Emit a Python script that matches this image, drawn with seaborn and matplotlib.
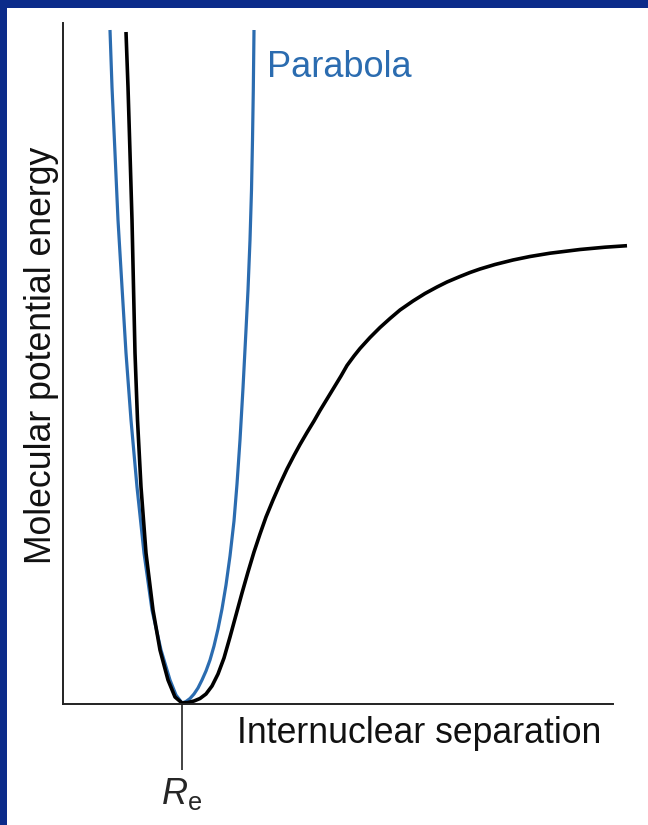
import numpy as np
import pandas as pd
import seaborn as sns
import matplotlib
matplotlib.use("Agg")
import matplotlib.pyplot as plt
from matplotlib.patches import Rectangle

# ---- data (arbitrary units) ----
R_E = 119  # equilibrium separation

morse_sep = [63, 65, 67, 69, 70.5, 72, 74.5, 78, 83, 90, 97, 105, 112,
             119, 125, 131, 137, 143, 149, 155, 161, 167, 173, 179, 185, 191,
             197, 203, 210, 217, 224, 231, 237, 244, 251, 257, 264, 271, 278,
             284, 291, 297, 307, 317, 327, 337, 350, 362, 374, 384, 397, 407,
             417, 432, 450, 467, 487, 517, 542, 564]
morse_energy = [671, 616, 550, 483, 416, 350, 283, 216, 150, 93, 53, 23, 6,
                0, 0.5, 2, 4.5, 9, 17, 29, 45, 66, 88, 110, 131, 151,
                169, 186, 203, 219, 234, 247.5, 258.5, 270.5, 282, 292.5, 304, 315.5, 327,
                337.5, 347, 354.5, 365.5, 375.5, 384.5, 393, 402, 409.5, 416, 421, 426.5, 430.5,
                434, 438.5, 443, 446.5, 449.8, 453.5, 455.8, 457.3]

parab_sep = [47, 49, 52, 55, 59, 63, 68, 74, 81, 89, 98, 107, 113,
             119, 123, 127, 131, 135, 139, 143, 147, 151, 155, 159, 163, 167,
             171, 174, 177, 180, 183, 185, 187, 188.5, 189.5, 190.3, 191]
parab_energy = [673, 616, 550, 483, 416, 350, 283, 216, 150, 93, 53, 23, 8,
                0, 1.5, 4.5, 9, 15, 23, 32, 43, 57, 74, 94, 118, 147,
                182, 219, 263, 315, 373, 413, 463, 513, 563, 613, 673]

x_label = "Internuclear separation"
y_label = "Molecular potential energy"
parab_label = "Parabola"
tick_label = r"$R_{\mathrm{e}}$"

# ---- style ----
sns.set_style("white")
plt.rcParams["font.family"] = ["Liberation Sans", "DejaVu Sans"]
plt.rcParams["mathtext.fontset"] = "custom"
plt.rcParams["mathtext.rm"] = "Liberation Sans"
plt.rcParams["mathtext.it"] = "Liberation Sans:italic"

W, H = 648, 825
fig = plt.figure(figsize=(W / 100, H / 100), dpi=100, facecolor="white")
border = "#0b2b8a"
fig.patches.append(Rectangle((0, 1 - 8 / H), 1, 8 / H, transform=fig.transFigure,
                             facecolor=border, edgecolor="none", zorder=0))
fig.patches.append(Rectangle((0, 0), 7 / W, 1, transform=fig.transFigure,
                             facecolor=border, edgecolor="none", zorder=0))

ax = fig.add_axes([63 / W, (H - 704) / H, (613 - 63) / W, (704 - 23) / H])
ax.set_facecolor("none")

blue = "#2b6cb0"
df_m = pd.DataFrame({"sep": morse_sep, "E": morse_energy})
df_p = pd.DataFrame({"sep": parab_sep, "E": parab_energy})
sns.lineplot(data=df_p, x="sep", y="E", ax=ax, color=blue, lw=2.3,
             sort=False, estimator=None)
sns.lineplot(data=df_m, x="sep", y="E", ax=ax, color="black", lw=2.6,
             sort=False, estimator=None)
for ln in ax.lines:
    ln.set_clip_on(False)
    ln.set_solid_capstyle("butt")
    ln.set_solid_joinstyle("round")

ax.set_xlim(0, 550)
ax.set_ylim(-1, 680)
ax.set_xlabel("")
ax.set_ylabel("")
ax.set_yticks([])
ax.set_xticks([R_E])
ax.set_xticklabels([tick_label], fontsize=26)
ax.tick_params(axis="x", direction="out", length=47.5, width=1.2,
               color="#222222", pad=4, bottom=True)
for s in ["top", "right"]:
    ax.spines[s].set_visible(False)
for s in ["left", "bottom"]:
    ax.spines[s].set_color("#222222")
    ax.spines[s].set_linewidth(1.4)

fig.text(237 / W, (H - 743) / H, x_label, fontsize=25.7, ha="left",
         va="baseline", color="#111111")
fig.text(42 / W, (H - 355) / H, y_label, fontsize=25.7, rotation=90,
         ha="center", va="center", color="#111111")
fig.text(267 / W, (H - 77) / H, parab_label, fontsize=26, ha="left",
         va="baseline", color=blue)

fig.savefig("out.png", dpi=100, facecolor="white")
